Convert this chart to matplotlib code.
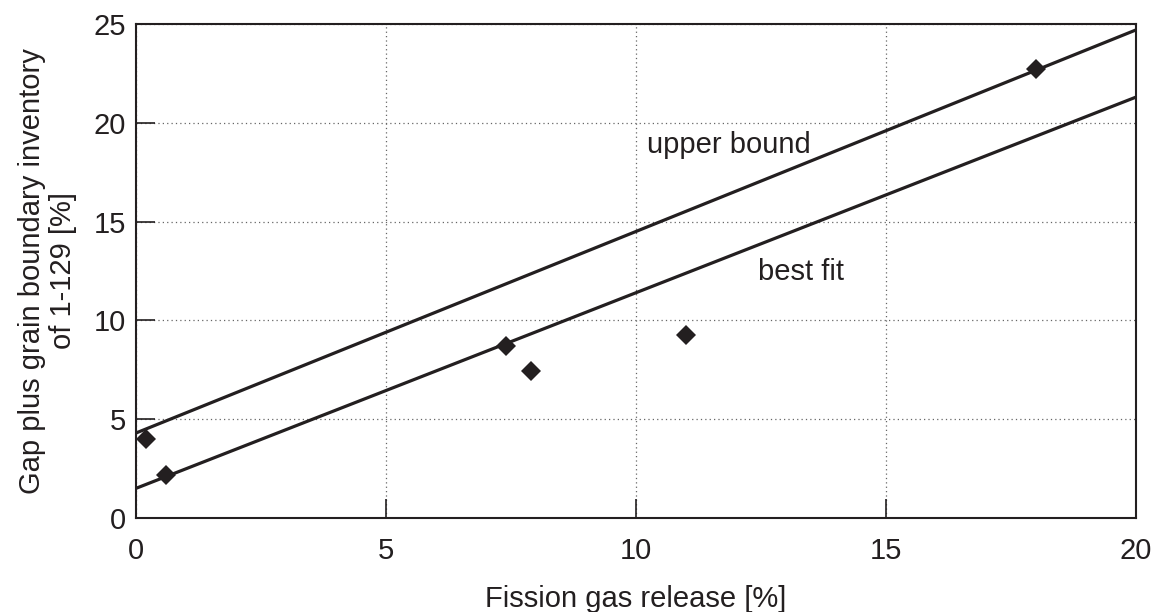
import matplotlib
matplotlib.use("Agg")
import matplotlib.pyplot as plt
import numpy as np

plt.rcParams['font.family'] = ['Liberation Sans', 'DejaVu Sans']

# data points
fgr = [0.2, 0.6, 7.4, 7.9, 11.0, 18.0]
inventory = [4.0, 2.2, 8.7, 7.45, 9.25, 22.7]

# lines (endpoints at x = 0 and x = 20)
line_x = [0, 20]
upper_bound = [4.3, 24.7]
best_fit = [1.5, 21.3]

xticks = [0, 5, 10, 15, 20]
yticks = [0, 5, 10, 15, 20, 25]

fig = plt.figure(figsize=(11.6, 6.12), dpi=100)
ax = fig.add_axes([0.1172, 0.1536, 0.8621, 0.8072])

ax.plot(line_x, upper_bound, color='#231f20', lw=2.3, solid_capstyle='butt')
ax.plot(line_x, best_fit, color='#231f20', lw=2.3, solid_capstyle='butt')
ax.plot(fgr, inventory, linestyle='none', marker='D', ms=10.5, color='#231f20',
        markeredgewidth=0)

ax.set_xlim(0, 20)
ax.set_ylim(0, 25)
ax.set_xticks(xticks)
ax.set_yticks(yticks)
ax.grid(True, linestyle=(0, (1, 2.5)), color='#666666', lw=0.9)
ax.tick_params(direction='in', length=14, width=1.2, labelsize=21,
               colors='#231f20')
ax.tick_params(axis='x', pad=14)
ax.tick_params(axis='y', pad=7)
for s in ax.spines.values():
    s.set_linewidth(1.5)
    s.set_color('#231f20')

ax.text(11.86, 18.9, 'upper bound', fontsize=21, ha='center', va='center', color='#231f20')
ax.text(13.3, 12.45, 'best fit', fontsize=21, ha='center', va='center', color='#231f20')

ax.set_xlabel('Fission gas release [%]', fontsize=21, labelpad=14, color='#231f20')
ax.set_ylabel('Gap plus grain boundary inventory\nof 1-129 [%]', fontsize=21,
              labelpad=12, color='#231f20', linespacing=1.15)

fig.savefig('out.png', dpi=100)
